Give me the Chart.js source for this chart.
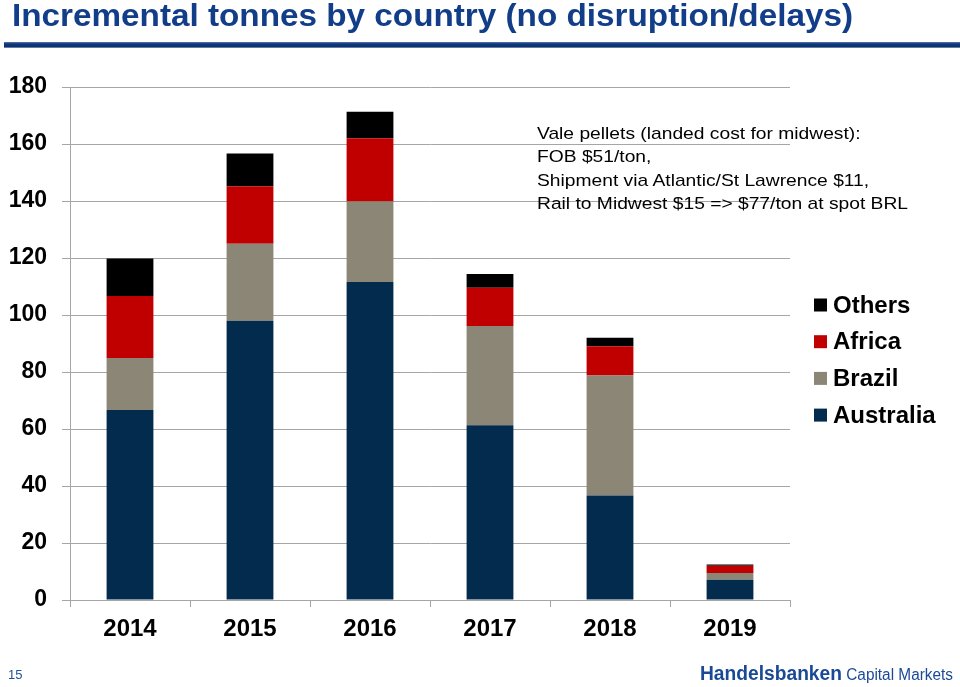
<!DOCTYPE html>
<html>
<head>
<meta charset="utf-8">
<script src="https://cdn.jsdelivr.net/npm/chart.js@4.4.0/dist/chart.umd.min.js"></script>
<style>
  html, body { margin: 0; padding: 0; background: #fff; }
  #wrap { position: relative; width: 960px; height: 687px; overflow: hidden; font-family: "Liberation Sans", Arial, sans-serif; }
  #title { position: absolute; left: 12px; top: -1px; font-size: 32px; line-height: 1; font-weight: bold; color: #123d88; white-space: nowrap; transform-origin: 0 0; }
  #rule { position: absolute; left: 4px; top: 42px; width: 956px; height: 6px; background: linear-gradient(#5a7bb0, #0f3a7e 30%, #0b2f6a 80%, #9fb2d0); }
  #note { position: absolute; left: 537px; top: 122px; font-size: 17px; line-height: 23.4px; color: #000; white-space: nowrap; transform-origin: 0 0; }
  #page { position: absolute; left: 8px; top: 667px; font-size: 13px; color: #1f4e9a; }
  #brand { position: absolute; left: 700px; top: 662px; white-space: nowrap; color: #1a4a96; transform-origin: 0 0; }
  #brand b { font-size: 20px; }
  #brand span { font-size: 16px; }
  canvas { position: absolute; left: 0; top: 0; }
</style>
</head>
<body>
<div id="wrap">
  <canvas id="c" width="960" height="687"></canvas>
  <div id="title">Incremental tonnes by country (no disruption/delays)</div>
  <div id="rule"></div>
  <div id="note">Vale pellets (landed cost for midwest):<br>FOB $51/ton,<br>Shipment via Atlantic/St Lawrence $11,<br>Rail to Midwest $15 =&gt; $77/ton at spot BRL</div>
  <div id="page">15</div>
  <div id="brand"><b>Handelsbanken</b> <span>Capital Markets</span></div>
</div>
<script>
const categories = ["2014", "2015", "2016", "2017", "2018", "2019"];
const australia = [66.7, 98.0, 111.6, 61.3, 36.7, 7.1];
const brazil    = [18.2, 27.0, 28.2, 34.8, 42.1, 2.4];
const africa    = [21.8, 20.2, 22.2, 13.5, 10.2, 2.5];
const others    = [13.1, 11.5, 9.3, 4.8, 3.0, 0.5];
const seriesNames = ["Australia", "Brazil", "Africa", "Others"];
const yTicks = [0, 20, 40, 60, 80, 100, 120, 140, 160, 180];

const colors = ["#022b4e", "#8c8677", "#c00000", "#000000"];
const FONT = '"Liberation Sans", Arial, sans-serif';

function fitWidth(id, w) {
  const el = document.getElementById(id);
  const r = el.getBoundingClientRect().width;
  el.style.transform = 'scaleX(' + (w / r) + ')';
}
fitWidth('title', 841);
fitWidth('note', 371);
fitWidth('brand', 253);

const legendPlugin = {
  id: 'sideLegend',
  afterDraw(chart) {
    const ctx = chart.ctx;
    ctx.save();
    const ds = chart.data.datasets.slice().reverse();
    ds.forEach((d, i) => {
      const cy = 305 + i * 36.7;
      ctx.fillStyle = d.backgroundColor;
      ctx.fillRect(814, cy - 6.5, 13, 13);
      ctx.fillStyle = '#000';
      ctx.font = 'bold 24px ' + FONT;
      ctx.textBaseline = 'middle';
      ctx.textAlign = 'left';
      ctx.fillText(d.label, 833, cy + 1);
    });
    ctx.restore();
  }
};

new Chart(document.getElementById('c'), {
  type: 'bar',
  data: {
    labels: categories,
    datasets: [australia, brazil, africa, others].map((v, i) => ({
      label: seriesNames[i],
      data: v,
      backgroundColor: colors[i],
      borderWidth: 0,
      barPercentage: 0.39,
      categoryPercentage: 1.0
    }))
  },
  options: {
    responsive: false,
    animation: false,
    layout: { padding: { top: 87, right: 170, left: 0, bottom: 0 } },
    plugins: { legend: { display: false }, tooltip: { enabled: false }, title: { display: false } },
    scales: {
      x: {
        stacked: true,
        afterFit(s) { s.height = 87; },
        grid: { display: true, offset: true, drawOnChartArea: false, drawTicks: true, tickLength: 7, color: '#a6a6a6' },
        border: { display: true, color: '#a6a6a6', width: 1 },
        ticks: { color: '#000', font: { family: FONT, size: 24, weight: 'bold' }, padding: 8, maxRotation: 0 }
      },
      y: {
        stacked: true,
        min: 0, max: 180,
        afterFit(s) { s.width = 70; },
        afterBuildTicks(s) { s.ticks = yTicks.map(v => ({ value: v })); },
        grid: { color: '#a6a6a6', drawTicks: true, tickLength: 8, lineWidth: 1 },
        border: { display: true, color: '#a6a6a6', width: 1 },
        ticks: { color: '#000', font: { family: FONT, size: 23, weight: 'bold' }, padding: 15 }
      }
    }
  },
  plugins: [legendPlugin]
});
</script>
</body>
</html>
